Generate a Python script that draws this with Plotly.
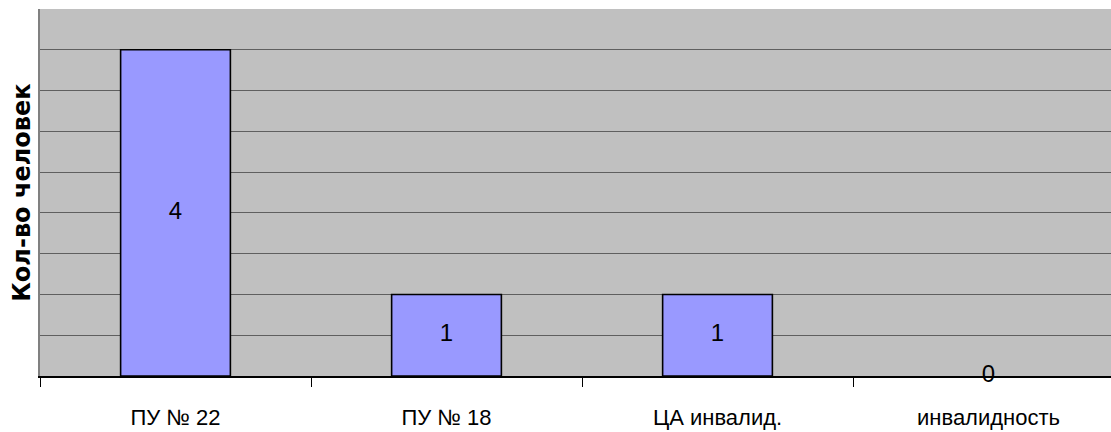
import plotly.graph_objects as go

categories = ["ПУ № 22", "ПУ № 18", "ЦА инвалид.", "инвалидность"]
values = [4, 1, 1, 0]
y_title = "Кол-во человек"

label_font = "Liberation Sans, Arial"

fig = go.Figure()
fig.add_trace(go.Bar(
    x=categories, y=values,
    marker=dict(color="#9999FF",
                line=dict(color="#000000", width=[1.6 if v > 0 else 0 for v in values])),
    width=0.405, hoverinfo="skip", showlegend=False,
))
fig.add_trace(go.Scatter(
    x=categories, y=[v / 2 for v in values],
    mode="text", text=[str(v) for v in values],
    textposition="middle center",
    textfont=dict(family=label_font, size=24, color="#000000"),
    cliponaxis=False, hoverinfo="skip", showlegend=False,
))

fig.update_layout(
    width=1111, height=432,
    margin=dict(l=40, r=0, t=9, b=56),
    paper_bgcolor="#FFFFFF", plot_bgcolor="#C0C0C0",
    xaxis=dict(
        type="category", range=[-0.5, 3.452], automargin=False,
        tickson="boundaries", ticks="outside", ticklen=9, tickcolor="#000000", tickwidth=1,
        showgrid=False, showline=True, linecolor="#000000", linewidth=1.5,
        tickfont=dict(family=label_font, size=22, color="#000000"),
        ticklabelstandoff=21, zeroline=False,
    ),
    yaxis=dict(
        range=[0, 4.5], dtick=0.5, showticklabels=False, automargin=False,
        showgrid=True, gridcolor="#5f5f5f", gridwidth=1.2,
        showline=True, linecolor="#808080", linewidth=1.5, mirror=True,
        zeroline=False,
    ),
    annotations=[dict(
        text=y_title, textangle=-90, xref="paper", yref="paper",
        x=-0.0175, y=0.5, xanchor="center", yanchor="middle", showarrow=False,
        font=dict(family="DejaVu Sans", size=24, color="#000000", weight="bold"),
    )],
)
fig.write_html("out.html", config={"displayModeBar": False},
               post_script="document.body.style.margin='0';")
